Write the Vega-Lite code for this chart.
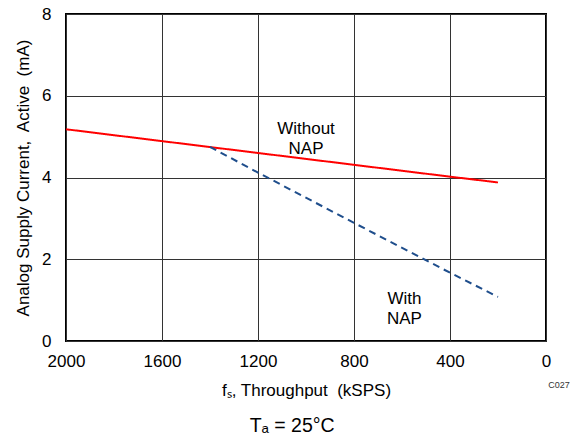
{
  "$schema": "https://vega.github.io/schema/vega-lite/v6.json",
  "width": 480,
  "height": 327,
  "autosize": {"type": "none"},
  "padding": {"left": 66, "top": 14, "right": 25, "bottom": 99},
  "background": "white",
  "config": {
    "font": "Liberation Sans",
    "view": {"stroke": "#000", "strokeWidth": 2},
    "axis": {
      "labelFont": "Liberation Sans", "labelFontSize": 17, "labelColor": "#000",
      "titleFont": "Liberation Sans", "titleFontSize": 17, "titleFontWeight": "normal", "titleColor": "#000",
      "ticks": false, "domain": false, "gridColor": "#333", "gridWidth": 1, "gridOpacity": 1, "labelFlush": false
    }
  },
  "title": {
    "text": "Tₐ = 25°C", "orient": "bottom", "anchor": "middle", "frame": "bounds",
    "font": "Liberation Sans", "fontSize": 19.5, "fontWeight": "normal", "color": "#000", "offset": 19
  },
  "datasets": {
    "lines": [
      {"fs": 2000, "I": 5.18, "s": "Without NAP"},
      {"fs": 1600, "I": 4.89, "s": "Without NAP"},
      {"fs": 1200, "I": 4.6, "s": "Without NAP"},
      {"fs": 800, "I": 4.31, "s": "Without NAP"},
      {"fs": 400, "I": 4.02, "s": "Without NAP"},
      {"fs": 200, "I": 3.88, "s": "Without NAP"},
      {"fs": 1400, "I": 4.75, "s": "With NAP"},
      {"fs": 1200, "I": 4.12, "s": "With NAP"},
      {"fs": 800, "I": 2.89, "s": "With NAP"},
      {"fs": 400, "I": 1.67, "s": "With NAP"},
      {"fs": 200, "I": 1.08, "s": "With NAP"}
    ],
    "labels": [
      {"fs": 1000, "I": 5.18, "t": "Without\nNAP"},
      {"fs": 590, "I": 1.03, "t": "With\nNAP"}
    ],
    "code": [{"fs": 0, "I": 0, "t": "C027"}]
  },
  "layer": [
    {
      "data": {"name": "lines"},
      "mark": {"type": "line", "strokeWidth": 2},
      "encoding": {
        "x": {
          "field": "fs", "type": "quantitative",
          "scale": {"domain": [2000, 0], "nice": false},
          "axis": {"values": [2000, 1600, 1200, 800, 400, 0], "format": "d", "labelPadding": 12, "title": "fₛ, Throughput\u00a0 (kSPS)", "titlePadding": 13}
        },
        "y": {
          "field": "I", "type": "quantitative",
          "scale": {"domain": [0, 8], "nice": false},
          "axis": {"values": [0, 2, 4, 6, 8], "labelPadding": 15, "title": "Analog Supply Current,\u00a0 Active\u00a0 (mA)", "titlePadding": 9}
        },
        "color": {"field": "s", "type": "nominal", "scale": {"domain": ["Without NAP", "With NAP"], "range": ["#ff0000", "#1f4e8c"]}, "legend": null},
        "strokeDash": {"field": "s", "type": "nominal", "scale": {"domain": ["Without NAP", "With NAP"], "range": [[1, 0], [7, 5]]}, "legend": null}
      }
    },
    {
      "data": {"name": "labels"},
      "mark": {"type": "text", "fontSize": 17, "lineBreak": "\n", "lineHeight": 20, "align": "center", "baseline": "middle", "color": "#000"},
      "encoding": {
        "x": {"field": "fs", "type": "quantitative"},
        "y": {"field": "I", "type": "quantitative"},
        "text": {"field": "t"}
      }
    },
    {
      "data": {"name": "code"},
      "mark": {"type": "text", "fontSize": 9, "align": "center", "baseline": "middle", "color": "#333", "dx": 13, "dy": 44},
      "encoding": {
        "x": {"field": "fs", "type": "quantitative"},
        "y": {"field": "I", "type": "quantitative"},
        "text": {"field": "t"}
      }
    }
  ]
}
